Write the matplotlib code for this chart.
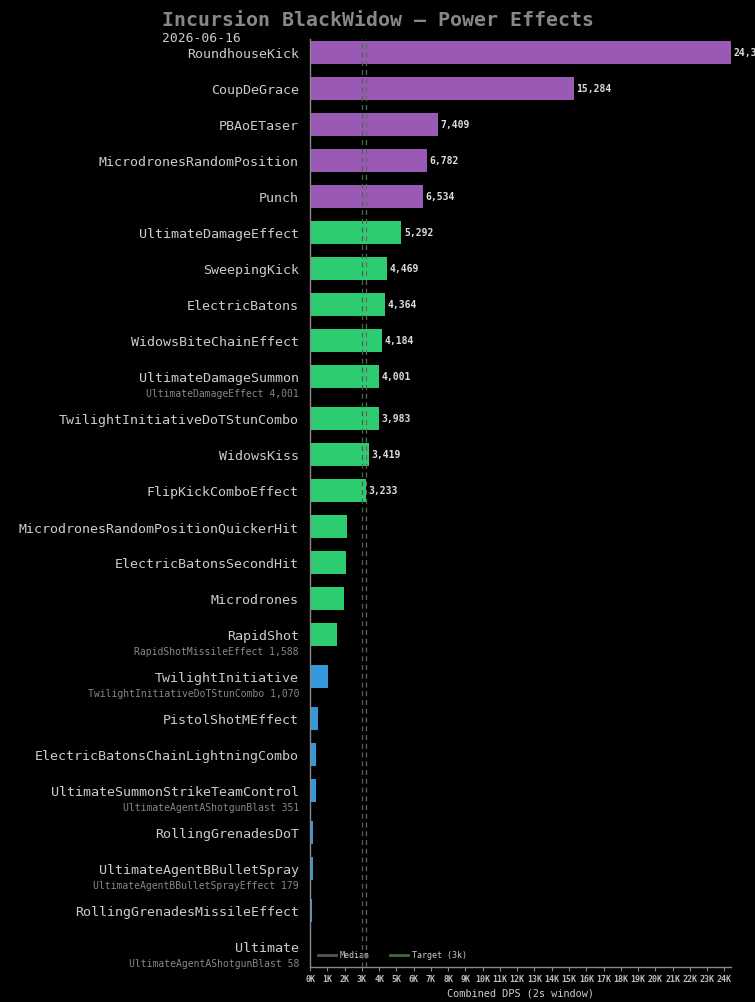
import numpy as np
import matplotlib
matplotlib.use("Agg")
import matplotlib.pyplot as plt
from matplotlib.lines import Line2D

# Data
powers = [
    "RoundhouseKick", "CoupDeGrace", "PBAoETaser", "MicrodronesRandomPosition",
    "Punch", "UltimateDamageEffect", "SweepingKick", "ElectricBatons",
    "WidowsBiteChainEffect", "UltimateDamageSummon", "TwilightInitiativeDoTStunCombo",
    "WidowsKiss", "FlipKickComboEffect", "MicrodronesRandomPositionQuickerHit",
    "ElectricBatonsSecondHit", "Microdrones", "RapidShot", "TwilightInitiative",
    "PistolShotMEffect", "ElectricBatonsChainLightningCombo",
    "UltimateSummonStrikeTeamControl", "RollingGrenadesDoT",
    "UltimateAgentBBulletSpray", "RollingGrenadesMissileEffect", "Ultimate",
]
dps = [
    24380, 15284, 7409, 6782, 6534, 5292, 4469, 4364, 4184, 4001, 3983,
    3419, 3233, 2120, 2060, 1950, 1588, 1070, 440, 375, 351, 200, 179, 90, 58,
]
sublabels = [
    "", "", "", "", "", "", "", "", "", "UltimateDamageEffect 4,001", "",
    "", "", "", "", "", "RapidShotMissileEffect 1,588",
    "TwilightInitiativeDoTStunCombo 1,070", "", "",
    "UltimateAgentAShotgunBlast 351", "", "UltimateAgentBBulletSprayEffect 179",
    "", "UltimateAgentAShotgunBlast 58",
]
xticks_k = list(range(0, 25))
target = 3000

BG = "#000000"
PURPLE = "#9b59b6"
GREEN = "#2ecc71"
BLUE = "#3498db"
MONO = "DejaVu Sans Mono"


def tier_color(v):
    if v >= 6000:
        return PURPLE
    if v >= 1500:
        return GREEN
    return BLUE


values = np.array(dps, dtype=float)
median = float(np.median(values))

# rows that carry a sub label get a little extra room below them
has_sub = np.array([1 if s else 0 for s in sublabels])
gaps = np.concatenate([[0], 1 + has_sub[:-1] / 6.0])
ypos = np.cumsum(gaps)

fig = plt.figure(figsize=(7.55, 10.03), dpi=100, facecolor=BG)
ax = fig.add_axes([310 / 755, 35 / 1003, 421 / 755, 928 / 1003], facecolor=BG)

ax.barh(ypos, values, height=0.64, color=[tier_color(v) for v in values], zorder=2)

ax.axvline(target, color="#3d6b3d", lw=0.9, ls=(0, (4, 3)), zorder=3)
ax.axvline(median, color="#666666", lw=0.9, ls=(0, (4, 3)), zorder=3)

for y, v in zip(ypos, values):
    if v >= median:
        ax.text(v + 150, y, f"{int(v):,}", va="center", ha="left",
                color="#dddddd", fontsize=7, fontweight="bold",
                family=MONO, clip_on=False)

ax.set_xlim(0, values.max())
ax.set_ylim(ypos[-1] + 0.57, ypos[0] - 0.37)

ax.set_yticks(ypos)
ax.set_yticklabels(powers, family=MONO, fontsize=9.6, color="#cccccc")
ax.tick_params(axis="y", length=0, pad=8)

for y, s in zip(ypos, sublabels):
    if s:
        ax.annotate(s, xy=(0, y), xycoords=("axes fraction", "data"),
                    xytext=(-11, -17), textcoords="offset pixels",
                    ha="right", va="center", color="#888888",
                    fontsize=7, family=MONO, annotation_clip=False)

ax.set_xticks([k * 1000 for k in xticks_k])
ax.set_xticklabels([f"{k}K" for k in xticks_k], family=MONO, fontsize=6,
                   fontweight="bold", color="#bbbbbb")
ax.tick_params(axis="x", colors="#888888", length=3, pad=2, labelcolor="#bbbbbb")
ax.set_xlabel("Combined DPS (2s window)", family=MONO, fontsize=7.4,
              color="#cccccc", labelpad=3)

for side in ["top", "right"]:
    ax.spines[side].set_visible(False)
for side in ["left", "bottom"]:
    ax.spines[side].set_color("#888888")
    ax.spines[side].set_linewidth(1)

handles = [
    Line2D([0], [0], color="#555555", lw=2),
    Line2D([0], [0], color="#3d6b3d", lw=2),
]
leg = ax.legend(handles, ["Median", "Target (3k)"], loc="lower left",
                ncol=2, frameon=False, prop={"family": MONO, "size": 6},
                labelcolor="#cccccc", handlelength=2.2, handletextpad=0.4,
                columnspacing=2.5, bbox_to_anchor=(0.0, 0.0))
leg.set_zorder(1)

fig.text(0.5, 1 - 20 / 1003, "Incursion BlackWidow \u2014 Power Effects",
         ha="center", va="center", family=MONO, fontsize=14.3,
         fontweight="bold", color="#888888")
fig.text(162 / 755, 1 - 38 / 1003, "2026-06-16", ha="left", va="center",
         family=MONO, fontsize=9.4, color="#cccccc")

fig.savefig("out.png", dpi=100, facecolor=BG)
